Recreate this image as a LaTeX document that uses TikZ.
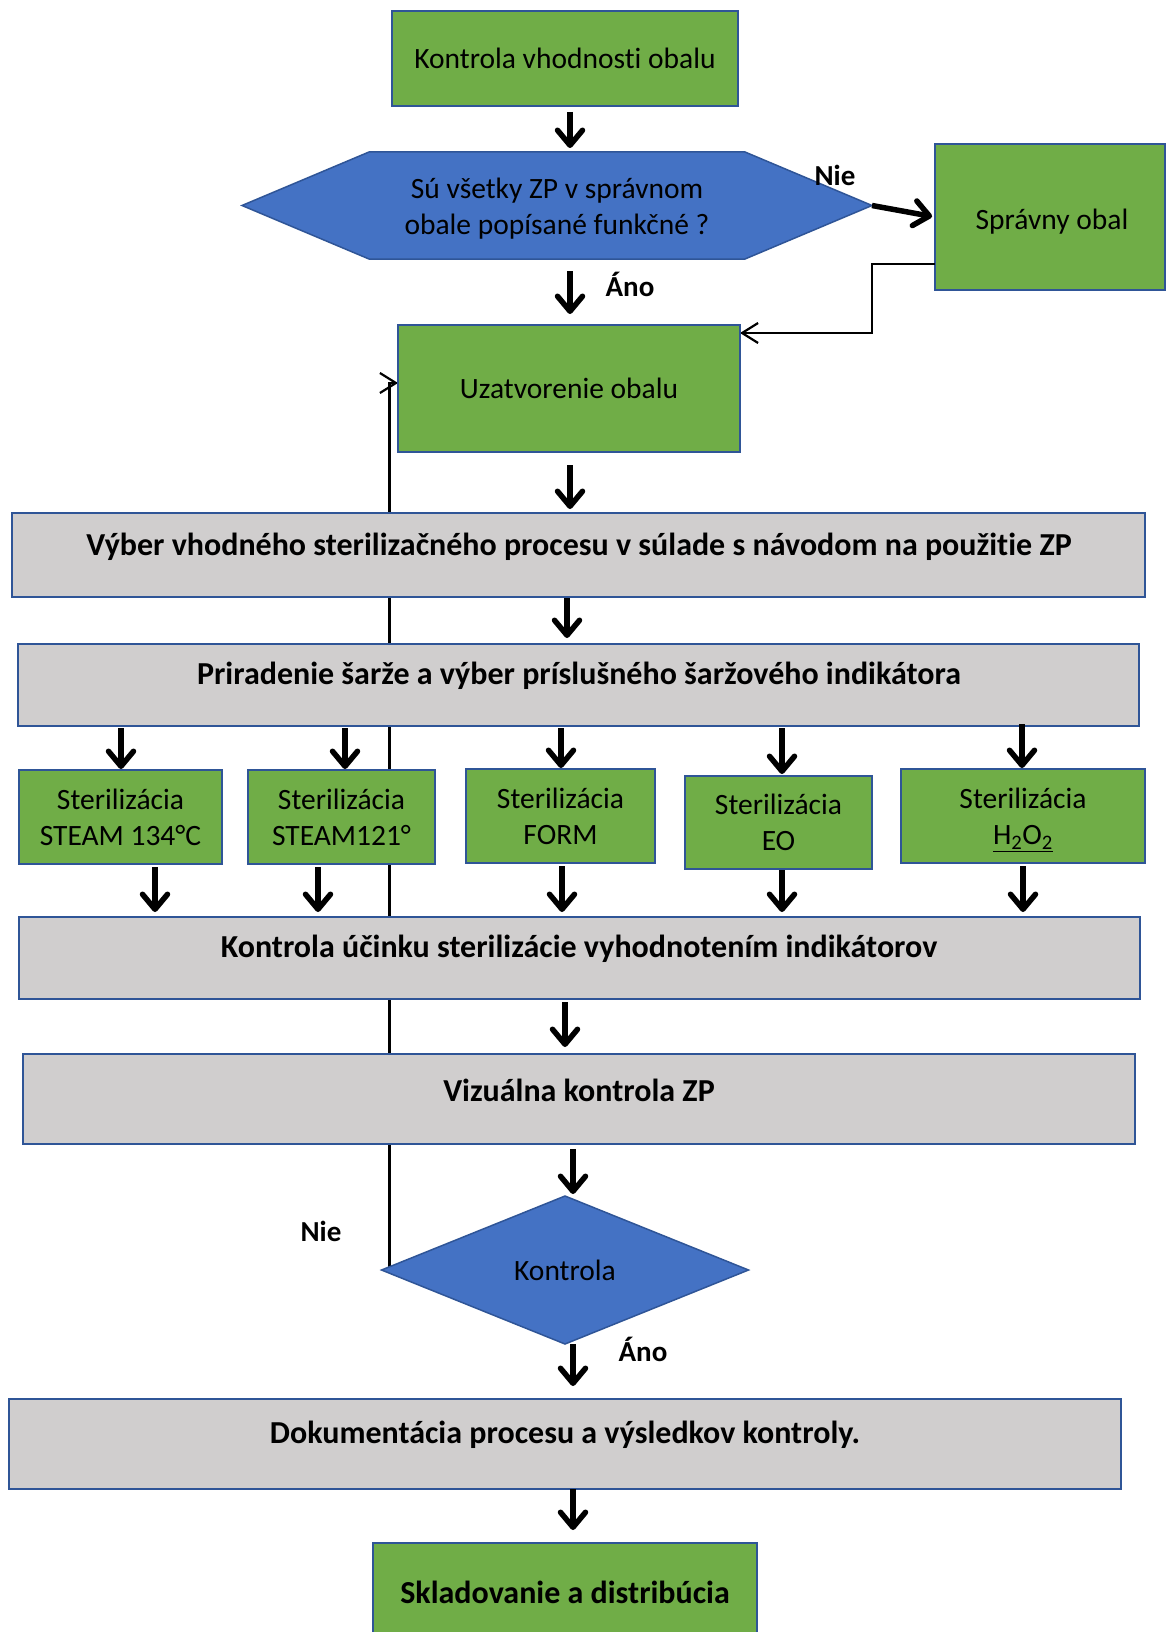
\documentclass[tikz,border=0pt]{standalone}
\usepackage{fontspec}
\setmainfont{Carlito}[Ligatures=NoCommon]
\usetikzlibrary{arrows.meta,shapes.geometric,calc}
\definecolor{gfill}{HTML}{70AD47}
\definecolor{bord}{HTML}{2F5597}
\definecolor{bfill}{HTML}{4472C4}
\definecolor{grayfill}{HTML}{D0CECE}
\begin{document}
\begin{tikzpicture}[x=1pt,y=-1pt,
  basebox/.style={draw=bord, line width=2.5pt, inner sep=0pt, outer sep=0pt},
  gbox/.style={basebox, fill=gfill},
  graybox/.style={basebox, fill=grayfill},
  txt/.style={font=\fontsize{29.5}{36}\selectfont, align=center, inner sep=0pt},
  btxt/.style={font=\fontsize{32}{38}\selectfont\bfseries, align=center, inner sep=0pt},
  lbl/.style={font=\fontsize{29}{34}\selectfont\bfseries, inner sep=0pt},
  arr/.style={line width=5.5pt, -{Straight Barb[length=15pt,width=25pt,round]}},
  thinarr/.style={line width=2.2pt, -{Straight Barb[length=16pt,width=20pt]}},
]
\useasboundingbox (0,0) rectangle (1167,1632);
\clip (0,0) rectangle (1167,1632);

% placeholders for shapes needed by early connectors
\node[inner sep=0, outer sep=0, minimum width=342pt, minimum height=127pt] (uzat) at (569,388.5) {};
\node[diamond, inner sep=0, outer sep=0, minimum width=367pt, minimum height=148pt] (kon) at (565,1270) {};

% feedback loop (behind boxes)
\draw[thinarr] ($(kon.west)+(8,-3)$) |- ($(uzat.north west)+(0,58)$);

% top box
\node[gbox, txt, minimum width=346pt, minimum height=95pt] (k1) at (565,58.5) {Kontrola vhodnosti obalu};

% hexagon decision
\node[inner sep=0, outer sep=0, minimum width=630pt, minimum height=107pt] (hex) at (557,205.5) {};
\draw[fill=bfill, draw=bord, line width=1.5pt]
  (hex.west) -- ($(hex.north west)+(127,0)$) -- ($(hex.north east)+(-127,0)$)
  -- (hex.east) -- ($(hex.south east)+(-127,0)$) -- ($(hex.south west)+(127,0)$) -- cycle;
\node[txt] (hexT) at (557,209) {Sú všetky ZP v správnom\\obale popísané funkčné ?};

% spravny obal
\node[gbox, minimum width=230pt, minimum height=146pt] (sprav) at (1050,217) {};
\node[txt] (spravT) at (1052,222) {Správny obal};
\node[lbl] (nie1) at (835,175) {Nie};
\draw[arr, shorten >=3pt] (hex.east) -- (sprav.west);
\draw[thinarr] ($(sprav.west)+(0,47)$) -- ++(-63,0) |- ($(uzat.north east)+(0,8)$);

% uzatvorenie
\node[gbox, txt, minimum width=342pt, minimum height=127pt] (uzatB) at (569,388.5) {Uzatvorenie obalu};
\node[lbl] (ano1) at (630,284) {Áno};

\draw[arr, shorten <=6pt, shorten >=4pt] (k1.south -| 570,0) -- (hex.north -| 570,0);
\draw[arr, shorten <=12pt, shorten >=11pt] (hex.south -| 570,0) -- (uzat.north -| 570,0);

% vyber
\node[graybox, minimum width=1133pt, minimum height=84pt] (vyber) at (578.5,555) {};
\node[btxt] (vyberT) at (579,547) {Výber vhodného sterilizačného procesu v súlade s návodom na použitie ZP};
\draw[arr, shorten <=13pt, shorten >=4pt] (uzat.south -| 570,0) -- (vyber.north -| 570,0);

% priradenie
\node[graybox, minimum width=1121pt, minimum height=82pt] (prir) at (578.5,685) {};
\node[btxt] (prirT) at (579,676) {Priradenie šarže a výber príslušného šaržového indikátora};
\draw[arr, shorten <=1pt, shorten >=6pt] (vyber.south -| 567,0) -- (prir.north -| 567,0);

% sterilization boxes
\node[gbox, txt, minimum width=203pt, minimum height=94pt] (sA) at (120.5,817) {Sterilizácia\\STEAM 134°C};
\node[gbox, txt, minimum width=187pt, minimum height=94pt] (sB) at (341.5,817) {Sterilizácia\\STEAM121°};
\node[gbox, txt, minimum width=189pt, minimum height=94pt] (sC) at (560.5,816) {Sterilizácia\\FORM};
\node[gbox, txt, minimum width=187pt, minimum height=93pt] (sD) at (778.5,822.5) {Sterilizácia\\EO};
\node[gbox, minimum width=244pt, minimum height=94pt] (sE) at (1023,816) {};
\node[txt] (sET) at (1023,820) {Sterilizácia\\\underline{H\textsubscript{2}O\textsubscript{2}}};

\draw[arr, shorten <=2pt, shorten >=1pt] (prir.south -| 121,0) -- (sA.north -| 121,0);
\draw[arr, shorten <=2pt, shorten >=1pt] (prir.south -| 345,0) -- (sB.north -| 345,0);
\draw[arr, shorten <=2pt, shorten >=1pt] (prir.south -| 561,0) -- (sC.north -| 561,0);
\draw[arr, shorten <=2pt, shorten >=2pt] (prir.south -| 782,0) -- (sD.north -| 782,0);
\draw[arr, shorten <=-2pt, shorten >=1pt] (prir.south -| 1022,0) -- (sE.north -| 1022,0);

% kontrola ucinku
\node[graybox, minimum width=1121pt, minimum height=82pt] (ku) at (579.5,958) {};
\node[btxt] (kuT) at (579,949) {Kontrola účinku sterilizácie vyhodnotením indikátorov};

\draw[arr, shorten <=3pt, shorten >=5pt] (sA.south -| 155,0) -- (ku.north -| 155,0);
\draw[arr, shorten <=3pt, shorten >=5pt] (sB.south -| 318,0) -- (ku.north -| 318,0);
\draw[arr, shorten <=3pt, shorten >=5pt] (sC.south -| 562,0) -- (ku.north -| 562,0);
\draw[arr, shorten <=1pt, shorten >=5pt] (sD.south -| 782,0) -- (ku.north -| 782,0);
\draw[arr, shorten <=3pt, shorten >=5pt] (sE.south -| 1023,0) -- (ku.north -| 1023,0);

% vizualna kontrola
\node[graybox, minimum width=1112pt, minimum height=90pt] (viz) at (579,1099) {};
\node[btxt] (vizT) at (579,1090) {Vizuálna kontrola ZP};
\draw[arr, shorten <=3pt, shorten >=7pt] (ku.south -| 565,0) -- (viz.north -| 565,0);

% diamond
\node[diamond, draw=bord, fill=bfill, line width=1.5pt, inner sep=0, outer sep=0,
      minimum width=367pt, minimum height=148pt, txt] (konB) at (565,1270) {Kontrola};
\draw[arr, shorten <=5pt, shorten >=2pt] (viz.south -| 573,0) -- (kon.north -| 573,0);
\node[lbl] (nie2) at (321,1231) {Nie};
\node[lbl] (ano2) at (643,1349) {Áno};

% dokumentacia
\node[graybox, minimum width=1112pt, minimum height=90pt] (dok) at (565,1444) {};
\node[btxt] (dokT) at (565,1435) {Dokumentácia procesu a výsledkov kontroly.};
\draw[arr, shorten <=0pt, shorten >=13pt] (kon.south -| 573,0) -- (dok.north -| 573,0);

% skladovanie
\node[gbox, minimum width=384pt, minimum height=110pt] (skl) at (565,1598) {};
\node[btxt] (sklT) at (565,1592) {Skladovanie a distribúcia};
\draw[arr, shorten <=0pt, shorten >=13pt] (dok.south -| 573,0) -- (skl.north -| 573,0);
\end{tikzpicture}
\end{document}
